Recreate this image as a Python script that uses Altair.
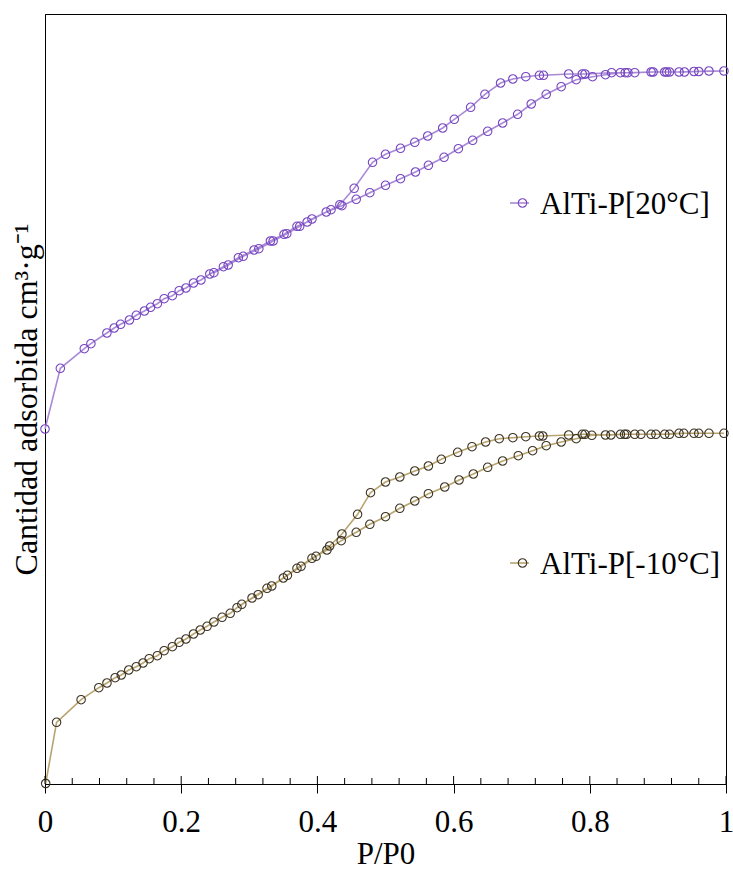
import altair as alt
import pandas as pd

# ---------------- data ----------------
# AlTi-P[20°C]  adsorption branch (P/P0 increasing)
p20_ads = [0.000, 0.0225, 0.0577, 0.0674, 0.0909, 0.1016, 0.111, 0.124, 0.134, 0.146,
           0.155, 0.165, 0.175, 0.187, 0.197, 0.207, 0.218, 0.229, 0.242, 0.262,
           0.284, 0.307, 0.331, 0.351, 0.370, 0.385, 0.413, 0.436, 0.457, 0.477,
           0.500, 0.522, 0.544, 0.563, 0.586, 0.607, 0.628, 0.650, 0.672, 0.694,
           0.714, 0.736, 0.758, 0.780, 0.804, 0.823, 0.845, 0.866, 0.893, 0.917,
           0.939, 0.960, 0.997]
q20_ads = [355.0, 415.7, 435.3, 440.3, 451.0, 456.0, 459.7, 464.0, 468.7, 473.0,
           476.7, 480.3, 485.3, 488.3, 493.3, 496.0, 501.0, 504.0, 510.0, 517.3,
           526.3, 534.0, 543.0, 549.7, 557.7, 562.0, 572.0, 578.3, 584.7, 591.3,
           598.7, 605.3, 612.0, 618.7, 626.7, 635.3, 643.7, 652.7, 661.0, 669.7,
           680.0, 689.7, 697.3, 704.3, 707.3, 709.3, 711.3, 711.3, 712.0, 712.0,
           712.0, 712.5, 713.0]
# AlTi-P[20°C]  desorption branch (P/P0 decreasing)
p20_des = [0.975, 0.953, 0.931, 0.913, 0.910, 0.890, 0.856, 0.852, 0.832, 0.793,
           0.789, 0.769, 0.732, 0.726, 0.706, 0.687, 0.669, 0.646, 0.625, 0.601,
           0.584, 0.562, 0.543, 0.522, 0.500, 0.481, 0.454, 0.433, 0.420, 0.392,
           0.374, 0.355, 0.335, 0.314, 0.291, 0.269, 0.248]
q20_des = [713.0, 712.5, 712.0, 712.0, 712.0, 712.0, 711.3, 711.3, 711.3, 710.0,
           710.0, 710.0, 708.7, 708.7, 707.3, 705.0, 701.0, 689.7, 676.7, 664.7,
           656.0, 648.0, 641.7, 635.7, 629.7, 621.7, 595.7, 579.3, 574.3, 565.0,
           557.7, 550.3, 543.0, 535.3, 527.7, 519.0, 511.3]

# AlTi-P[-10°C] adsorption branch
pm10_ads = [0.001, 0.017, 0.053, 0.079, 0.091, 0.103, 0.112, 0.123, 0.134, 0.144,
            0.153, 0.165, 0.175, 0.187, 0.197, 0.207, 0.218, 0.228, 0.238, 0.248,
            0.260, 0.272, 0.282, 0.304, 0.326, 0.350, 0.370, 0.392, 0.414, 0.435,
            0.457, 0.477, 0.500, 0.521, 0.543, 0.563, 0.587, 0.608, 0.629, 0.650,
            0.672, 0.695, 0.716, 0.736, 0.758, 0.780, 0.803, 0.823, 0.845, 0.866,
            0.890, 0.910, 0.931, 0.953, 0.975, 0.997]
qm10_ads = [0.5, 61.7, 84.3, 96.3, 101.0, 106.3, 109.0, 114.0, 117.3, 121.0,
            125.3, 128.3, 133.3, 137.3, 141.7, 145.0, 150.0, 154.0, 157.7, 162.0,
            166.7, 170.7, 176.3, 186.0, 195.7, 206.0, 215.7, 225.7, 234.0, 243.3,
            251.7, 259.7, 267.3, 275.7, 283.0, 290.3, 297.0, 304.0, 310.0, 316.7,
            323.0, 328.3, 333.3, 338.3, 342.0, 345.3, 348.7, 349.0, 349.7, 349.7,
            349.7, 349.7, 350.7, 350.7, 350.7, 350.7]
# AlTi-P[-10°C] desorption branch
pm10_des = [0.960, 0.938, 0.917, 0.897, 0.875, 0.854, 0.851, 0.831, 0.793, 0.789,
            0.769, 0.731, 0.726, 0.706, 0.687, 0.667, 0.647, 0.627, 0.606, 0.582,
            0.563, 0.543, 0.521, 0.500, 0.478, 0.459, 0.436, 0.418, 0.398, 0.376,
            0.356, 0.333, 0.313, 0.289]
qm10_des = [350.7, 350.7, 349.7, 349.7, 349.7, 349.7, 349.7, 349.0, 349.7, 349.7,
            349.0, 348.0, 348.0, 347.3, 346.3, 345.3, 342.0, 337.3, 331.7, 324.7,
            318.0, 313.0, 307.0, 302.0, 291.3, 269.7, 250.0, 238.0, 227.7, 217.7,
            208.7, 198.0, 189.3, 179.7]

series_names = ["AlTi-P[20°C]", "AlTi-P[-10°C]"]
major_ticks = [0, 0.2, 0.4, 0.6, 0.8, 1.0]
minor_ticks = [0.04, 0.08, 0.12, 0.16, 0.24, 0.28, 0.32, 0.36, 0.44, 0.48, 0.52, 0.56,
               0.64, 0.68, 0.72, 0.76, 0.84, 0.88, 0.92, 0.96]

# ---------------- styling ----------------
W, H = 681, 770
FONT = "Liberation Serif"
line_colors = {"AlTi-P[20°C]": "#a98ad6", "AlTi-P[-10°C]": "#b8a46e"}
mark_colors = {"AlTi-P[20°C]": "#7645c0", "AlTi-P[-10°C]": "#3d3322"}
legend_y = {"AlTi-P[20°C]": 189, "AlTi-P[-10°C]": 549}

x_scale = alt.Scale(domain=[0, 1], nice=False, zero=False)
y_scale = alt.Scale(domain=[0, 770], nice=False, zero=False)


def build_df(name, p_ads, q_ads, p_des, q_des):
    p = list(p_ads) + list(p_des)
    q = list(q_ads) + list(q_des)
    return pd.DataFrame({"p": p, "q": q, "orden": list(range(len(p))), "serie": name})


dfs = {
    series_names[0]: build_df(series_names[0], p20_ads, q20_ads, p20_des, q20_des),
    series_names[1]: build_df(series_names[1], pm10_ads, qm10_ads, pm10_des, qm10_des),
}

x_enc = alt.X("p:Q", scale=x_scale,
              axis=alt.Axis(values=major_ticks, format="~g", title="P/P0", grid=False,
                            tickSize=9, tickColor="black", tickWidth=1,
                            domainColor="black", domainWidth=1,
                            labelFont=FONT, labelFontSize=31, labelColor="black",
                            labelFlush=False, labelOverlap=False,
                            labelPadding=14, titleFont=FONT, titleFontSize=31,
                            titleFontWeight="normal", titleColor="black", titlePadding=2))
y_enc = alt.Y("q:Q", scale=y_scale,
              axis=alt.Axis(title="Cantidad adsorbida cm³·g⁻¹", labels=False, ticks=False,
                            grid=False, domainColor="black", domainWidth=1,
                            titleFont=FONT, titleFontSize=32, titleFontWeight="normal",
                            titleColor="black", titlePadding=9,
                            titleBaseline="alphabetic"))

layers = []
for name in series_names:
    df = dfs[name]
    base = alt.Chart(df)
    layers.append(base.mark_line(strokeWidth=1.6, color=line_colors[name]).encode(
        x=x_enc, y=y_enc, order="orden:Q"))
    layers.append(base.mark_point(shape="circle", filled=False, size=72, strokeWidth=1.1,
                                  color=mark_colors[name], opacity=1).encode(
        x="p:Q", y="q:Q"))

# tick decorations (inner halves of the major ticks and the minor ticks)
major_df = pd.DataFrame({"t": major_ticks})
minor_df = pd.DataFrame({"t": minor_ticks})
layers.append(alt.Chart(major_df).mark_rule(color="black", strokeWidth=1).encode(
    x="t:Q", y=alt.value(H - 8), y2=alt.value(H)))
layers.append(alt.Chart(minor_df).mark_rule(color="black", strokeWidth=1).encode(
    x="t:Q", y=alt.value(H - 6), y2=alt.value(H)))

# in-plot legend entries
for name in series_names:
    ly = legend_y[name]
    ldf = pd.DataFrame({"label": [name]})
    lb = alt.Chart(ldf)
    layers.append(lb.mark_rule(color=line_colors[name], strokeWidth=1.6).encode(
        x=alt.value(465), x2=alt.value(484), y=alt.value(ly)))
    layers.append(lb.mark_point(shape="circle", filled=False, size=72, strokeWidth=1.1,
                                color=mark_colors[name], opacity=1).encode(
        x=alt.value(477.5), y=alt.value(ly)))
    layers.append(lb.mark_text(font=FONT, fontSize=31, color="black", align="left",
                               baseline="alphabetic").encode(
        x=alt.value(495), y=alt.value(ly + 11), text="label:N"))

chart = alt.layer(*layers).properties(
    width=W, height=H,
    padding={"left": 45, "top": 14, "right": 7, "bottom": 91},
    autosize=alt.AutoSizeParams(type="none"),
    background="white",
).configure_view(stroke="black", strokeWidth=1)

chart.save("out.html", embed_options={"renderer": "svg", "actions": False})
